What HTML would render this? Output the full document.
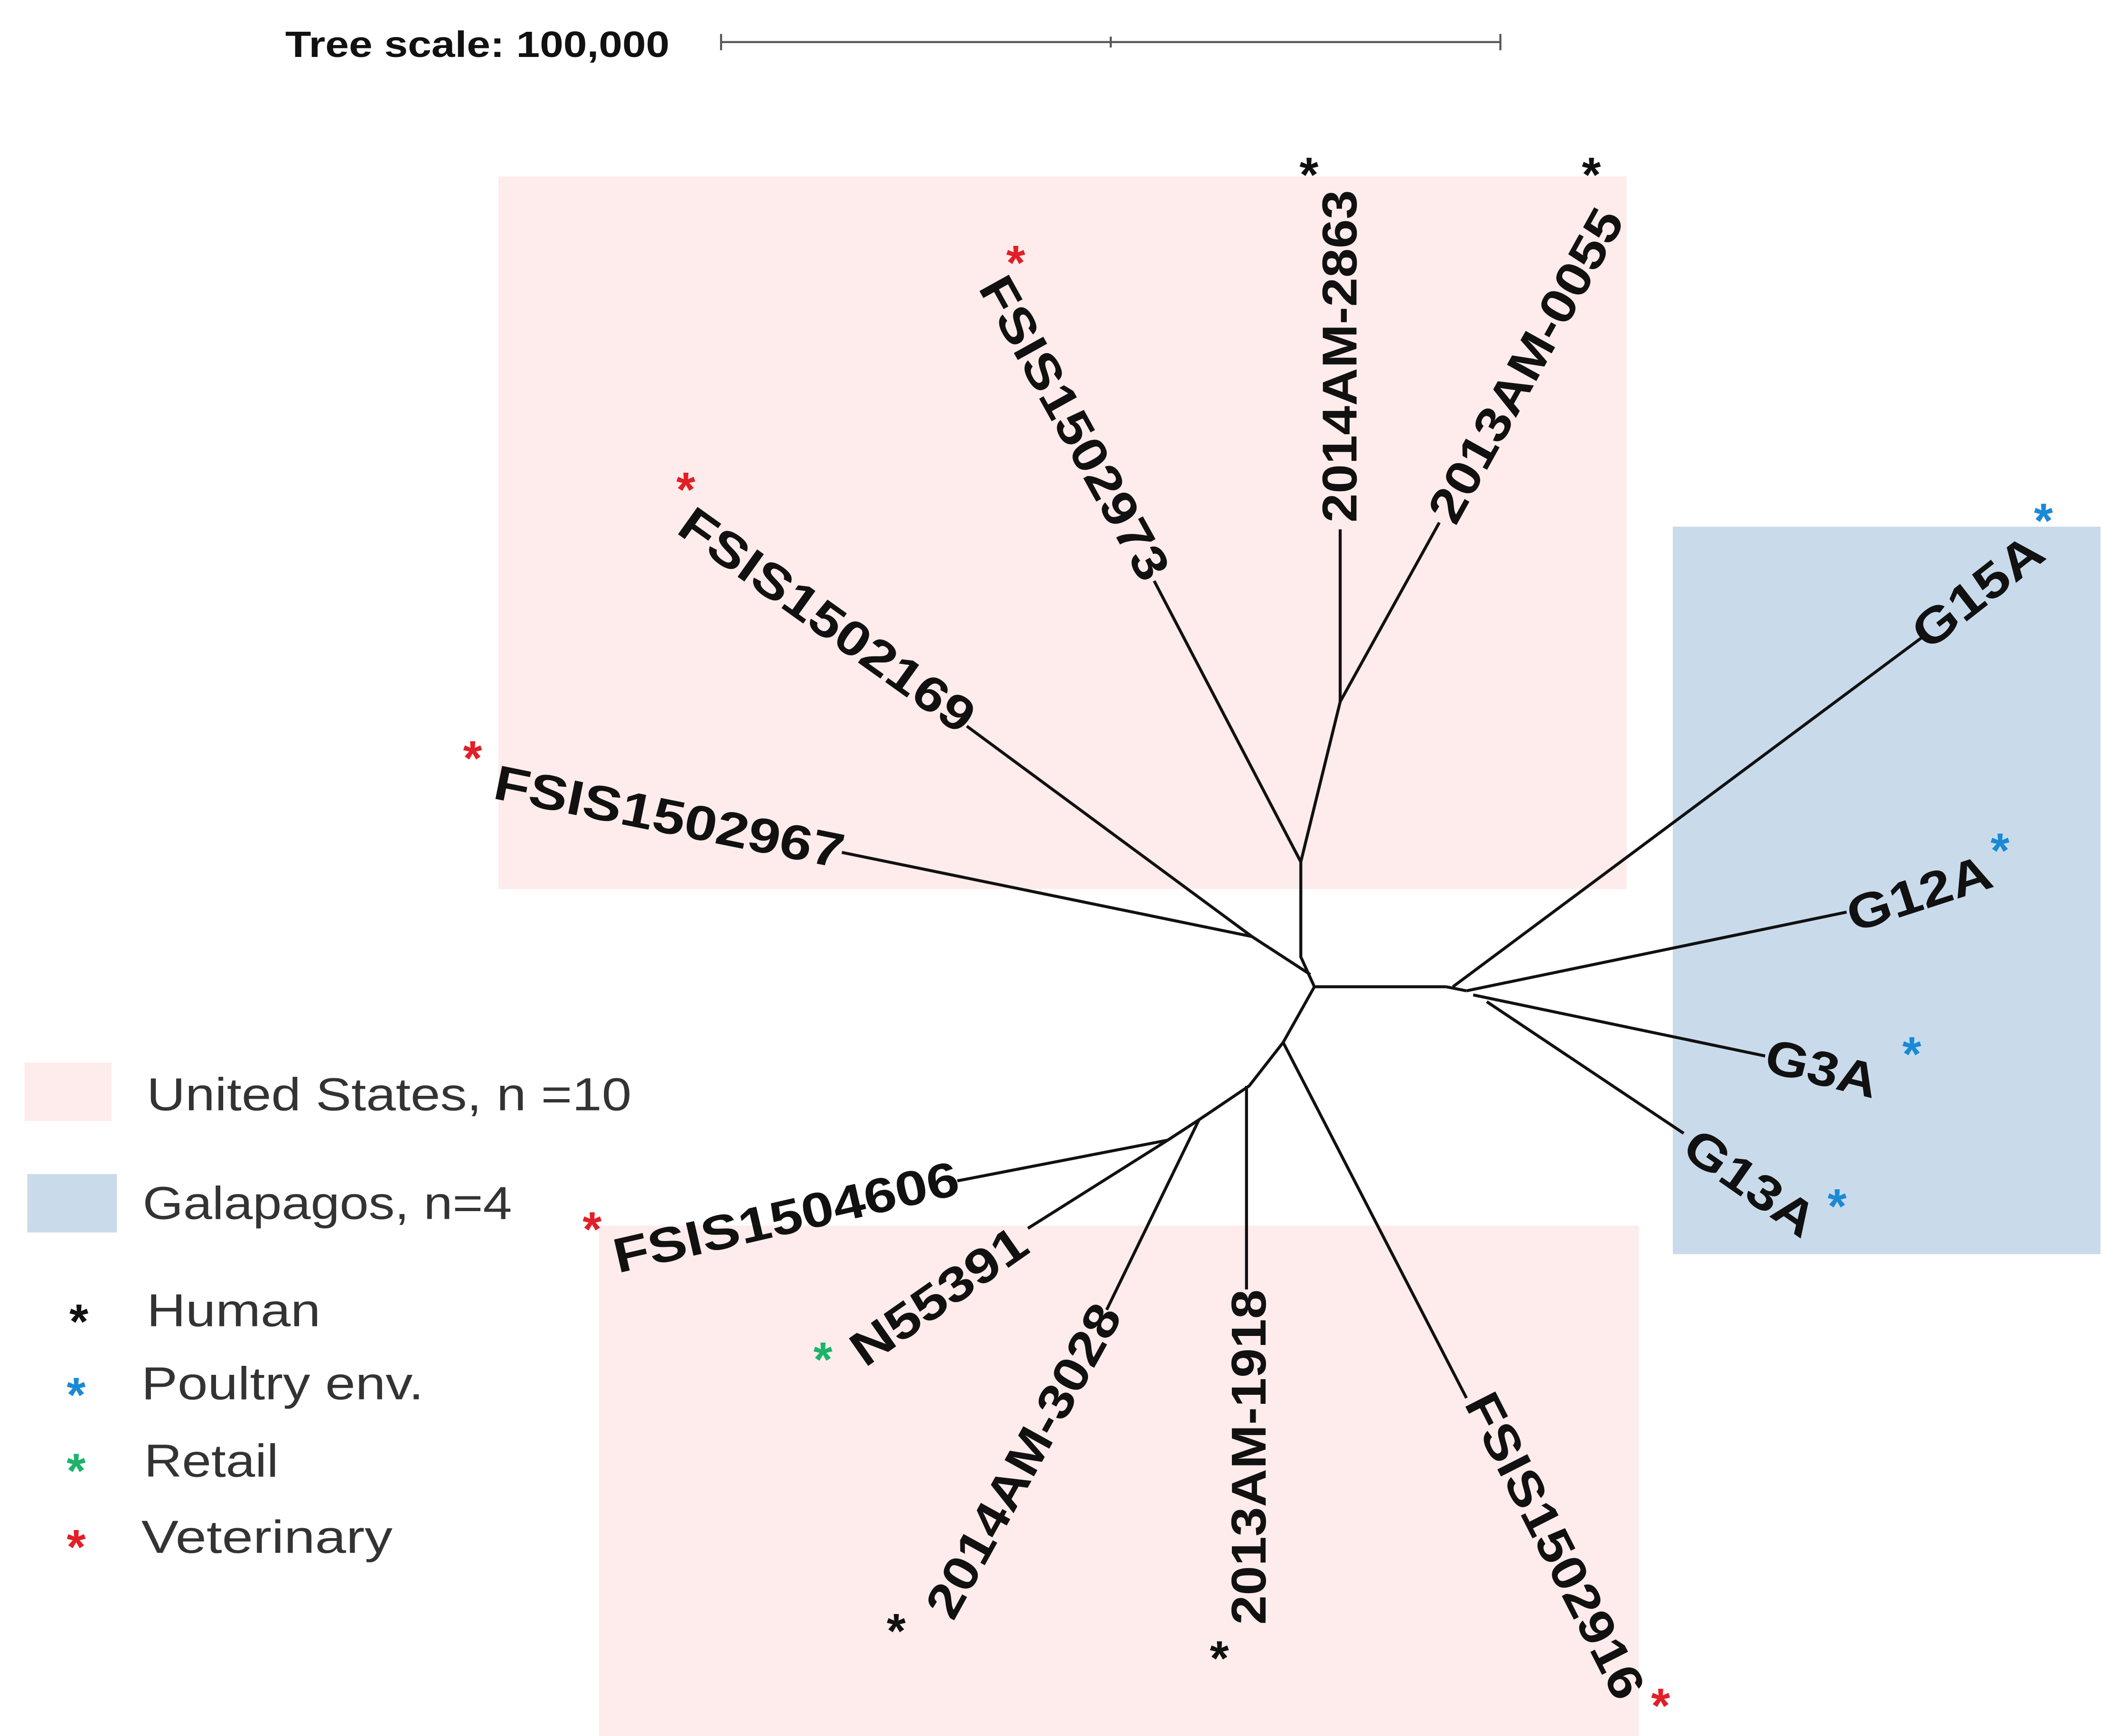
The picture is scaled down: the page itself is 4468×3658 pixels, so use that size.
<!DOCTYPE html>
<html><head><meta charset="utf-8"><style>
html,body{margin:0;padding:0;background:#fff;}
svg{display:block;}
text{font-family:"Liberation Sans",Arial,sans-serif;}
</style></head><body>
<svg width="4468" height="3658" viewBox="0 0 1562 1279" xmlns="http://www.w3.org/2000/svg">
<rect x="0" y="0" width="1562" height="1279" fill="#fff"/>
<!-- scale -->
<text x="210" y="42" font-size="27" font-weight="bold" fill="#111" textLength="283" lengthAdjust="spacingAndGlyphs">Tree scale:  100,000</text>
<g stroke="#555" stroke-width="1.5">
<line x1="531" y1="31" x2="1105" y2="31"/>
<line x1="531" y1="25" x2="531" y2="37"/>
<line x1="818" y1="27" x2="818" y2="35"/>
<line x1="1105" y1="25" x2="1105" y2="37"/>
</g>
<!-- regions -->
<rect x="367" y="130" width="831" height="525" fill="#fdeceb"/>
<rect x="441" y="903" width="766" height="376" fill="#fdeceb"/>
<rect x="1232" y="388" width="315" height="536" fill="#c9dbeb"/>
<!-- legend -->
<rect x="18" y="783" width="64" height="43" fill="#fdeceb"/>
<rect x="20" y="865" width="66" height="43" fill="#c9dbeb"/>
<g font-size="34" fill="#333" lengthAdjust="spacingAndGlyphs">
<text x="108" y="818" textLength="357" lengthAdjust="spacingAndGlyphs">United States, n =10</text>
<text x="105" y="898" textLength="272" lengthAdjust="spacingAndGlyphs">Galapagos, n=4</text>
<text x="108" y="977" textLength="128" lengthAdjust="spacingAndGlyphs">Human</text>
<text x="104" y="1031" textLength="208" lengthAdjust="spacingAndGlyphs">Poultry env.</text>
<text x="106" y="1088" textLength="99" lengthAdjust="spacingAndGlyphs">Retail</text>
<text x="104" y="1144" textLength="185" lengthAdjust="spacingAndGlyphs">Veterinary</text>
</g>
<g font-size="36" font-weight="bold" text-anchor="middle">
<text x="58" y="986" fill="#111">*</text>
<text x="56" y="1040" fill="#1a8ad4">*</text>
<text x="56" y="1096" fill="#1db36a">*</text>
<text x="56" y="1152" fill="#e21f26">*</text>
</g>
<!-- tree -->
<g stroke="#111" stroke-width="2.2" fill="none">
<polyline points="958,635 958,705 968,727 1065,727"/>
<line x1="958" y1="635" x2="987" y2="517"/>
<line x1="987" y1="517" x2="987" y2="390"/>
<line x1="987" y1="517" x2="1060" y2="385"/>
<line x1="958" y1="635" x2="850" y2="428"/>
<line x1="965" y1="718" x2="922" y2="690"/>
<line x1="922" y1="690" x2="712" y2="535"/>
<line x1="922" y1="690" x2="620" y2="628"/>
<polyline points="968,727 945,768 920,800 883,825 860,840"/>
<line x1="945" y1="768" x2="1080" y2="1030"/>
<line x1="918" y1="800" x2="918" y2="950"/>
<line x1="883" y1="825" x2="815" y2="965"/>
<line x1="860" y1="840" x2="705" y2="870"/>
<line x1="860" y1="840" x2="757" y2="905"/>
<polyline points="1065,727 1080,730"/>
<line x1="1070" y1="727" x2="1415" y2="470"/>
<line x1="1080" y1="730" x2="1360" y2="672"/>
<line x1="1085" y1="733" x2="1300" y2="778"/>
<line x1="1095" y1="738" x2="1240" y2="835"/>
</g>
<!-- labels -->
<g font-size="36" font-weight="bold" fill="#111">
<text transform="translate(999,385) rotate(-90)" textLength="245" lengthAdjust="spacingAndGlyphs">2014AM-2863</text>
<text transform="translate(1072,388) rotate(-61)" textLength="258" lengthAdjust="spacingAndGlyphs">2013AM-0055</text>
<text transform="translate(720,212) rotate(61)" textLength="250" lengthAdjust="spacingAndGlyphs">FSIS1502973</text>
<text transform="translate(497,392) rotate(35.5)" textLength="258" lengthAdjust="spacingAndGlyphs">FSIS1502169</text>
<text transform="translate(362,588) rotate(11.4)" textLength="262" lengthAdjust="spacingAndGlyphs">FSIS1502967</text>
<text transform="translate(1420,480) rotate(-38)" textLength="112" lengthAdjust="spacingAndGlyphs">G15A</text>
<text transform="translate(1365,687) rotate(-18)" textLength="110" lengthAdjust="spacingAndGlyphs">G12A</text>
<text transform="translate(1298,789) rotate(14)" textLength="84" lengthAdjust="spacingAndGlyphs">G3A</text>
<text transform="translate(1237,850) rotate(35)" textLength="110" lengthAdjust="spacingAndGlyphs">G13A</text>
<text transform="translate(455,938) rotate(-13)" textLength="260" lengthAdjust="spacingAndGlyphs">FSIS1504606</text>
<text transform="translate(637,1008) rotate(-35)" textLength="150" lengthAdjust="spacingAndGlyphs">N55391</text>
<text transform="translate(702,1195) rotate(-61)" textLength="258" lengthAdjust="spacingAndGlyphs">2014AM-3028</text>
<text transform="translate(932,1197) rotate(-90)" textLength="247" lengthAdjust="spacingAndGlyphs">2013AM-1918</text>
<text transform="translate(1078,1034) rotate(63)" textLength="248" lengthAdjust="spacingAndGlyphs">FSIS1502916</text>
</g>
<!-- asterisks -->
<g font-size="36" font-weight="bold" text-anchor="middle">
<text x="964" y="141" fill="#111">*</text>
<text x="1172" y="141" fill="#111">*</text>
<text x="748" y="206" fill="#e21f26">*</text>
<text x="505" y="373" fill="#e21f26">*</text>
<text x="348" y="571" fill="#e21f26">*</text>
<text x="1505" y="396" fill="#1a8ad4">*</text>
<text x="1473" y="639" fill="#1a8ad4">*</text>
<text x="1408" y="789" fill="#1a8ad4">*</text>
<text x="1353" y="901" fill="#1a8ad4">*</text>
<text x="436" y="918" fill="#e21f26">*</text>
<text x="606" y="1014" fill="#1db36a">*</text>
<text x="660" y="1214" fill="#111">*</text>
<text x="898" y="1234" fill="#111">*</text>
<text x="1223" y="1269" fill="#e21f26">*</text>
</g>
</svg>
</body></html>
